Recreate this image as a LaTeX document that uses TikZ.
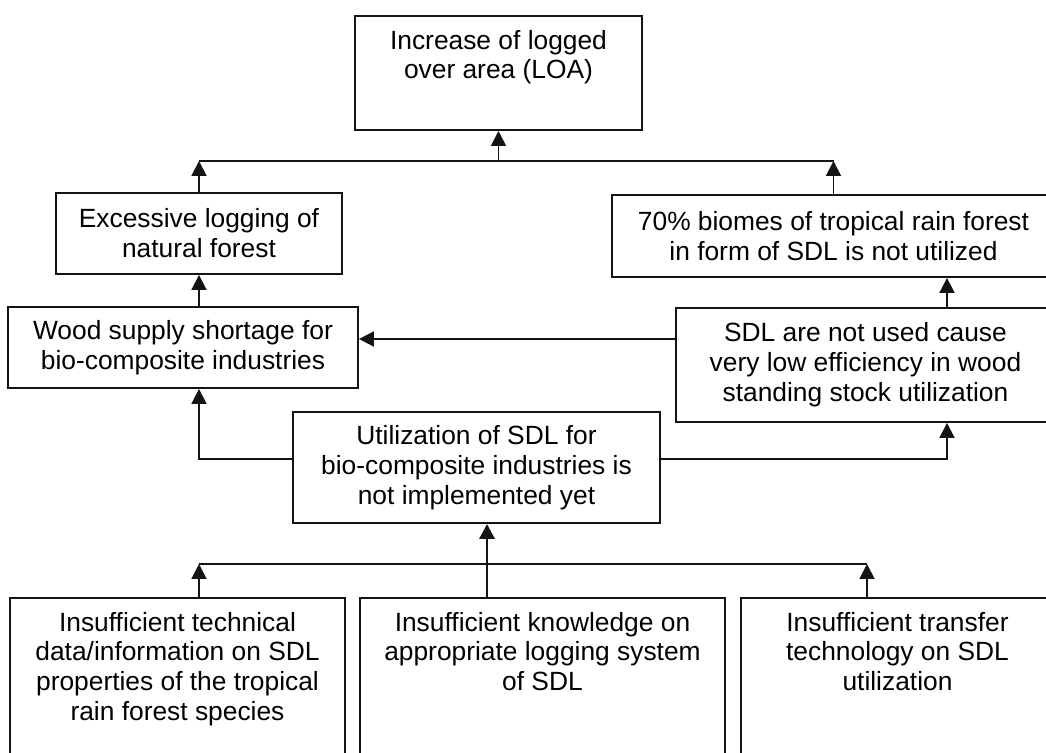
\documentclass[tikz,border=0pt]{standalone}
\usepackage{fontspec}
\setmainfont{Liberation Sans}
\usepackage{tikz}
\usetikzlibrary{arrows.meta, positioning, calc}
\definecolor{ink}{RGB}{20,20,20}
\tikzset{
  box/.style={rectangle, draw=ink, line width=1.1pt, align=center,
    font=\fontsize{15}{17}\selectfont, inner sep=2pt},
  topbox/.style={rectangle, draw=ink, line width=1.1pt, anchor=north,
    font=\fontsize{15}{17}\selectfont, inner xsep=2pt, inner ysep=8pt},
  arrow/.style={-{Triangle[length=8.5pt,width=8.5pt]}, line width=1.1pt, color=ink},
  line/.style={line width=1.1pt, color=ink}
}
\newcommand{\toptext}[3][3.6cm]{\parbox[t][#1][t]{#2}{\centering #3}}

\begin{document}
\begin{tikzpicture}[x=0.02cm, y=-0.02cm]
  \useasboundingbox (0,0) rectangle (1046,753);
  \clip (0,0) rectangle (1046,753);

  % Problem boxes
  \node[topbox, minimum width=5.74cm] (loa) at (498.5,15) {\toptext[1.72cm]{5.5cm}{Increase of logged\\over area (LOA)}};
  \node[box, minimum width=5.72cm, minimum height=1.62cm] (excess) at (199,233.5) {Excessive logging of\\natural forest};
  \node[box, minimum width=8.86cm, minimum height=1.64cm] (biome) at (833.5,236) {70\% biomes of tropical rain forest\\in form of SDL is not utilized};
  \node[box, minimum width=7.0cm, minimum height=1.62cm] (wood) at (183,347.5) {Wood supply shortage for\\bio-composite industries};
  \node[box, minimum width=7.58cm, minimum height=2.28cm] (sdl) at (865.5,365) {SDL are not used cause\\very low efficiency in wood\\standing stock utilization};
  \node[box, minimum width=7.34cm, minimum height=2.22cm] (util) at (476.5,467.5) {Utilization of SDL for\\bio-composite industries is\\not implemented yet};

  % Causes
  \node[topbox, minimum width=6.7cm] (tech) at (177.5,597) {\toptext{6.5cm}{Insufficient technical\\data/information on SDL\\properties of the tropical\\rain forest species}};
  \node[topbox, minimum width=7.3cm] (know) at (542.5,597) {\toptext{7.1cm}{Insufficient knowledge on\\appropriate logging system\\of SDL}};
  \node[topbox, minimum width=6.26cm] (trans) at (897.5,597) {\toptext{6.1cm}{Insufficient transfer\\technology on SDL\\utilization}};

  % Rows and columns of the connectors
  \coordinate (topbar) at (500,161);
  \coordinate (midrow) at (0,339);
  \coordinate (utilrow) at (0,459);
  \coordinate (botrow) at (0,564);
  \coordinate (rcol) at (947,0);
  \coordinate (mcol) at (487,0);
  \coordinate (tcol) at (867,0);

  % Top level
  \draw[arrow] (excess.north) -- (excess.north |- topbar);
  \draw[arrow] (biome.north) -- (biome.north |- topbar);
  \draw[line] (excess.north |- topbar) -- (biome.north |- topbar);
  \draw[arrow] (loa.south |- topbar) -- (loa.south);

  % Middle level
  \draw[arrow] (excess.south |- wood.north) -- (excess.south);
  \draw[arrow] (rcol |- sdl.north) -- (rcol |- biome.south);
  \draw[arrow] (sdl.west |- midrow) -- (wood.east |- midrow);
  \draw[arrow] (util.west |- utilrow) -| (excess.south |- wood.south);
  \draw[arrow] (util.east |- utilrow) -| (rcol |- sdl.south);

  % Bottom level
  \draw[arrow] (excess.south |- tech.north) -- (excess.south |- botrow);
  \draw[arrow] (tcol |- trans.north) -- (tcol |- botrow);
  \draw[line] (excess.south |- botrow) -- (tcol |- botrow);
  \draw[arrow, line width=1.7pt] (mcol |- know.north) -- (mcol |- util.south);

\end{tikzpicture}
\end{document}
